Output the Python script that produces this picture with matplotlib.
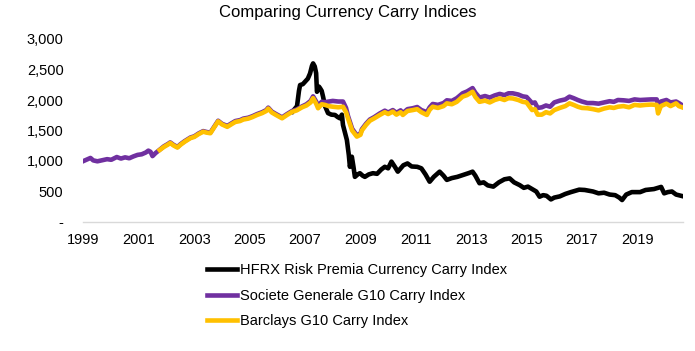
#%%
# IMPORTS #######################################

import matplotlib
matplotlib.use('Agg')
import matplotlib.pyplot as plt
import matplotlib.ticker as ticker

# SETUP #########################################

plt.rcParams.update({
    'font.family': ['Liberation Sans', 'DejaVu Sans'],
    'font.size': 10.5,
})

# DATA ##########################################

# decimal years, index levels

hfrx_years = [
    2006.55, 2006.71, 2006.78, 2006.82, 2006.92, 2007.00, 2007.10, 2007.18,
    2007.25, 2007.29, 2007.35, 2007.40, 2007.43, 2007.50, 2007.54, 2007.60,
    2007.65, 2007.72, 2007.83, 2007.95, 2008.08, 2008.18, 2008.26, 2008.33,
    2008.37, 2008.45, 2008.51, 2008.58, 2008.62, 2008.69, 2008.75, 2008.80,
    2008.90, 2008.98, 2009.08, 2009.16, 2009.30, 2009.45, 2009.60, 2009.75,
    2009.88, 2010.00, 2010.12, 2010.25, 2010.35, 2010.55, 2010.70, 2010.85,
    2011.05, 2011.20, 2011.35, 2011.50, 2011.65, 2011.86, 2012.00, 2012.12,
    2012.30, 2012.50, 2012.70, 2012.90, 2013.05, 2013.15, 2013.30, 2013.45,
    2013.60, 2013.80, 2014.00, 2014.20, 2014.39, 2014.55, 2014.75, 2014.90,
    2015.05, 2015.20, 2015.35, 2015.47, 2015.60, 2015.72, 2015.88, 2016.00,
    2016.20, 2016.40, 2016.60, 2016.90, 2017.10, 2017.40, 2017.60, 2017.80,
    2018.00, 2018.20, 2018.35, 2018.45, 2018.60, 2018.80, 2019.10, 2019.30,
    2019.60, 2019.86, 2019.97, 2020.10, 2020.25, 2020.40, 2020.62,
]
hfrx_values = [
    1810, 1900, 2150, 2245, 2260, 2300, 2350, 2435,
    2560, 2600, 2550, 2440, 2135, 2220, 2195, 2150,
    2055, 1900, 1785, 1760, 1755, 1720, 1700, 1760,
    1590, 1450, 1345, 1100, 905, 1070, 900, 740,
    780, 800, 760, 740, 780, 800, 790, 860,
    905, 880, 990, 900, 825, 930, 960, 910,
    905, 880, 780, 660, 740, 825, 760, 690,
    720, 740, 770, 800, 825, 760, 635, 650,
    600, 580, 650, 700, 715, 650, 605, 560,
    580, 540, 500, 415, 440, 430, 370, 400,
    420, 460, 490, 530, 525, 500, 470, 480,
    450, 440, 400, 360, 450, 490, 490, 525,
    540, 575, 470, 490, 500, 450, 425,
]

sg_years = [
    1999.00, 1999.10, 1999.25, 1999.35, 1999.50, 1999.65, 1999.85, 2000.00,
    2000.20, 2000.35, 2000.50, 2000.65, 2000.80, 2000.95, 2001.10, 2001.25,
    2001.34, 2001.42, 2001.49, 2001.60,
    2001.75, 2001.90, 2002.05, 2002.13, 2002.25, 2002.39, 2002.50, 2002.65,
    2002.86, 2003.00, 2003.15, 2003.32, 2003.45, 2003.58, 2003.70, 2003.86,
    2004.00, 2004.19, 2004.35, 2004.48, 2004.65, 2004.77, 2004.95, 2005.10,
    2005.27, 2005.45, 2005.60, 2005.67, 2005.80, 2005.95, 2006.17, 2006.35,
    2006.53, 2006.70, 2006.89, 2007.05, 2007.20, 2007.29, 2007.40, 2007.47,
    2007.60, 2007.72, 2007.85, 2008.00, 2008.20, 2008.37, 2008.48, 2008.55,
    2008.70, 2008.87, 2009.00, 2009.05, 2009.20, 2009.34, 2009.50, 2009.70,
    2009.88, 2010.00, 2010.17, 2010.30, 2010.45, 2010.53, 2010.70, 2010.89,
    2011.05, 2011.20, 2011.40, 2011.50, 2011.61, 2011.80, 2012.00, 2012.12,
    2012.30, 2012.48, 2012.69, 2012.85, 2013.05, 2013.15, 2013.30, 2013.50,
    2013.67, 2013.85, 2014.03, 2014.20, 2014.35, 2014.50, 2014.70, 2014.86,
    2015.00, 2015.20, 2015.30, 2015.40, 2015.55, 2015.70, 2015.85, 2016.00,
    2016.20, 2016.40, 2016.55, 2016.70, 2016.85, 2017.00, 2017.20, 2017.40,
    2017.60, 2017.80, 2018.00, 2018.15, 2018.30, 2018.50, 2018.70, 2018.90,
    2019.10, 2019.30, 2019.50, 2019.70, 2019.75, 2019.85, 2020.05, 2020.20,
    2020.40, 2020.50, 2020.62,
]
sg_values = [
    1000, 1020, 1050, 1010, 995, 1010, 1030, 1020,
    1065, 1040, 1060, 1045, 1075, 1100, 1110, 1140,
    1170, 1150, 1080, 1130,
    1185, 1240, 1280, 1305, 1265, 1230, 1275, 1325,
    1385, 1405, 1450, 1490, 1475, 1465, 1550, 1660,
    1610, 1575, 1620, 1655, 1670, 1695, 1710, 1735,
    1770, 1800, 1835, 1875, 1810, 1770, 1715, 1770,
    1820, 1845, 1895, 1930, 1985, 2060, 1975, 1905,
    1970, 1965, 1975, 1985, 1975, 1975, 1870, 1740,
    1530, 1420, 1450, 1520, 1610, 1680, 1720, 1780,
    1825, 1795, 1835, 1790, 1830, 1785, 1850, 1865,
    1885, 1835, 1800, 1880, 1935, 1920, 1950, 1995,
    1985, 2030, 2110, 2140, 2195, 2120, 2040, 2065,
    2040, 2075, 2100, 2080, 2110, 2110, 2090, 2060,
    2050, 1950, 1960, 1870, 1880, 1910, 1890, 1960,
    1990, 2010, 2055, 2030, 2000, 1975, 1950, 1950,
    1940, 1960, 1980, 1970, 2000, 1995, 1985, 2010,
    2000, 2005, 2010, 2010, 1920, 1975, 2000, 1960,
    1975, 1950, 1915,
]

barclays_years = [
    2001.75, 2001.90, 2002.05, 2002.13, 2002.25, 2002.39, 2002.50, 2002.65,
    2002.86, 2003.00, 2003.15, 2003.32, 2003.45, 2003.58, 2003.70, 2003.86,
    2004.00, 2004.19, 2004.35, 2004.48, 2004.65, 2004.77, 2004.95, 2005.10,
    2005.27, 2005.45, 2005.60, 2005.67, 2005.80, 2005.95, 2006.17, 2006.35,
    2006.53, 2006.70, 2006.89, 2007.05, 2007.20, 2007.29, 2007.40, 2007.47,
    2007.60, 2007.72, 2007.85, 2008.00, 2008.20, 2008.37, 2008.48, 2008.55,
    2008.70, 2008.87, 2009.00, 2009.05, 2009.20, 2009.34, 2009.50, 2009.70,
    2009.88, 2010.00, 2010.17, 2010.30, 2010.45, 2010.53, 2010.70, 2010.89,
    2011.05, 2011.20, 2011.40, 2011.50, 2011.61, 2011.80, 2012.00, 2012.12,
    2012.30, 2012.48, 2012.69, 2012.85, 2013.05, 2013.15, 2013.30, 2013.50,
    2013.67, 2013.85, 2014.03, 2014.20, 2014.35, 2014.50, 2014.70, 2014.86,
    2015.00, 2015.20, 2015.30, 2015.40, 2015.55, 2015.70, 2015.85, 2016.00,
    2016.20, 2016.40, 2016.55, 2016.70, 2016.85, 2017.00, 2017.20, 2017.40,
    2017.60, 2017.80, 2018.00, 2018.15, 2018.30, 2018.50, 2018.70, 2018.90,
    2019.10, 2019.30, 2019.50, 2019.70, 2019.75, 2019.85, 2020.05, 2020.20,
    2020.40, 2020.50, 2020.62,
]
barclays_values = [
    1180, 1230, 1270, 1295, 1255, 1220, 1265, 1315,
    1375, 1395, 1440, 1480, 1465, 1455, 1540, 1650,
    1600, 1560, 1605, 1640, 1655, 1680, 1695, 1720,
    1755, 1785, 1820, 1860, 1795, 1755, 1700, 1755,
    1805, 1830, 1880, 1910, 1960, 2030, 1940, 1865,
    1930, 1920, 1900, 1890, 1880, 1890, 1800, 1700,
    1500, 1400, 1430, 1500, 1590, 1660, 1700, 1755,
    1800, 1770, 1810, 1760, 1800, 1755, 1820, 1835,
    1850, 1800, 1755, 1840, 1890, 1870, 1900, 1945,
    1930, 1970, 2055, 2080, 2135, 2050, 1970, 1990,
    1960, 2000, 2025, 2000, 2030, 2025, 2000, 1970,
    1960, 1835, 1850, 1760, 1760, 1800, 1780, 1835,
    1870, 1900, 1945, 1920, 1890, 1870, 1865, 1850,
    1830, 1860, 1880, 1870, 1890, 1900, 1880, 1920,
    1910, 1920, 1925, 1920, 1780, 1900, 1940, 1900,
    1945, 1900, 1880,
]

labels = [
    'HFRX Risk Premia Currency Carry Index',
    'Societe Generale G10 Carry Index',
    'Barclays G10 Carry Index',
]
x_ticks = list(range(1999, 2020, 2))
y_ticks = [0, 500, 1000, 1500, 2000, 2500, 3000]

# FIGURE ########################################

fig = plt.figure(figsize=(6.95, 3.51), dpi=100)
ax = fig.add_axes([83/695, 1 - 222/351, 600/695, 183/351])

# AXIS LIMITS ################

ax.set_xlim(1998.98, 2020.65)
ax.set_ylim(0, 3000)

# TICKS AND LABELS ###########

def accounting_formatter(value, tick_number):
    """Excel accounting style: 0 shown as '-'."""
    if value == 0:
        return '-'
    return f"{int(value):,}"

ax.set_xticks(x_ticks)
ax.set_yticks(y_ticks)
ax.yaxis.set_major_formatter(ticker.FuncFormatter(accounting_formatter))
ax.tick_params(axis='both', length=0, labelsize=10.5, colors='black')
ax.tick_params(axis='y', pad=14)
ax.tick_params(axis='x', pad=8)

for side in ['top', 'right', 'left']:
    ax.spines[side].set_visible(False)
ax.spines['bottom'].set_color('#d9d9d9')
ax.spines['bottom'].set_linewidth(1)

# PLOTTING ###################

ax.plot(hfrx_years, hfrx_values, label=labels[0], color='black', linewidth=3.3, zorder=2)
ax.plot(sg_years, sg_values, label=labels[1], color='#7030a0', linewidth=3.3, zorder=3)
ax.plot(barclays_years, barclays_values, label=labels[2], color='#ffc000', linewidth=3.3, zorder=4)

# TITLE ######################

fig.text(0.5, 1 - 13/351, 'Comparing Currency Carry Indices',
         ha='center', va='center', fontsize=12)

# LEGEND #####################

fig.legend(
    loc='upper center',
    bbox_to_anchor=(0.514, 1 - 263/351),
    frameon=False,
    fontsize=10.5,
    handlelength=2.05,
    handletextpad=0.2,
    labelspacing=0.8,
    borderpad=0,
    borderaxespad=0,
)

# EXPORT #########################################

fig.savefig('out.png', dpi=100)
